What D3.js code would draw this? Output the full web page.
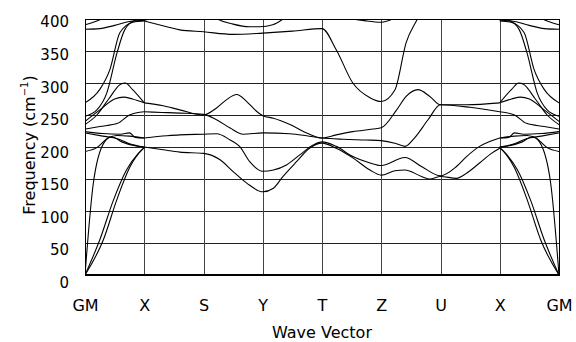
<!DOCTYPE html>
<html>
<head>
<meta charset="utf-8">
<script src="https://cdn.jsdelivr.net/npm/d3@7/dist/d3.min.js"></script>
<style>
body { margin: 0; background: #fff; }
svg text { font-family: "DejaVu Sans", sans-serif; fill: #000; }
</style>
</head>
<body>
<script>
// k-path labels and frequency ticks
var kLabels = ["GM", "X", "S", "Y", "T", "Z", "U", "X", "GM"];
var yTicks = [0, 50, 100, 150, 200, 250, 300, 350, 400];

// branches, as [path position, frequency (cm-1)]
// GM -> X
var bandsGX = [
	[[0,269],[0.25,290],[0.42,321],[0.59,379],[0.81,395],[1,397]],
	[[0,248],[0.2,258],[0.37,285],[0.54,347],[0.67,383],[0.85,398],[1,400],[1.3,406],[1.6,420]],
	[[0,391],[0.2,397],[0.4,405],[0.8,418]],
	[[0,384],[0.25,385],[0.5,390],[0.75,396],[1,398],[1.2,403],[1.5,415]],
	[[0,235],[0.2,250],[0.4,275],[0.6,298],[0.68,300],[0.8,290],[1,269]],
	[[0,240],[0.25,258],[0.5,275],[0.65,278],[0.8,275],[1,269]],
	[[0,228],[0.25,232],[0.55,237],[0.75,250],[1,255]],
	[[0,224],[0.3,221],[0.6,220],[0.75,222],[0.85,215],[1,214]],
	[[0,222],[0.3,217],[0.55,213],[0.75,205],[1,200]],
	[[0,193],[0.2,199],[0.39,214],[0.54,218],[0.75,217],[1,214]],
	[[0,0],[0.14,143],[0.33,208],[0.45,216],[0.62,208],[0.84,202],[1,200]],
	[[0,0],[0.25,55],[0.48,117],[0.7,164],[0.9,190],[1,199]],
	[[0,0],[0.31,55],[0.535,117],[0.76,169],[0.955,195],[1,199]]
];

// X -> S -> Y -> T -> Z -> U -> X
var bandsMid = [
	[[1,397],[1.38,388],[1.6,383],[2,380],[2.5,376],[3,378],[3.5,381],[4,385],[4.24,352],[4.52,300],[4.81,277],[5,271],[5.23,289],[5.42,363],[5.62,402],[5.8,440]],
	[[2,420],[2.16,404],[2.5,392],[2.78,388],[2.95,388],[3.17,391],[3.37,401.5],[3.6,415]],
	[[4.2,412],[4.47,401.5],[4.75,397],[5,395],[5.28,404],[5.5,415]],
	[[1,269],[1.32,264.5],[1.6,258],[2,250],[2.22,261],[2.39,274],[2.56,282],[2.73,271],[2.87,258],[3,249],[3.18,245],[3.46,235],[3.74,222],[4,214],[4.24,219],[4.52,224],[4.86,228],[5,230],[5.26,258],[5.42,279],[5.62,289.6],[5.82,279],[6,266],[6.44,266],[7,269]],
	[[1,255],[1.3,254],[1.6,253],[2,251],[2.22,242.6],[2.45,229.6],[2.67,220],[3,222],[3.46,220.6],[3.74,217.5],[4,214],[4.36,212],[4.75,211],[5,210],[5.23,206],[5.4,201],[5.56,214],[5.79,242.6],[6,266],[6.5,262],[7,255]],
	[[1,214],[1.38,217.5],[1.6,219],[2,220],[2.22,220.6],[2.45,211],[2.61,201],[2.78,177],[3,162],[3.18,164],[3.4,172],[3.63,188],[3.85,203],[4,208],[4.24,201],[4.52,185],[4.81,175],[5,171],[5.4,183.6],[5.68,169.5],[6,155],[6.27,169.5],[6.44,185],[6.66,201],[6.83,208.6],[7,214]],
	[[1,200],[1.32,195.6],[1.6,192],[2,190],[2.28,180],[2.5,161.6],[2.73,143.5],[3,130],[3.18,135.6],[3.34,153.8],[3.57,177],[3.79,198],[4,206],[4.24,198],[4.52,183],[4.81,164],[5,156],[5.23,162.8],[5.4,164],[5.68,154],[5.82,150],[6,154],[6.27,151],[6.44,159],[6.66,175],[6.86,190],[7,198]]
];

// X -> GM
var bandsXG = [
	[[7,397],[7.19,395],[7.41,379],[7.58,321],[7.75,290],[8,269]],
	[[6.4,420],[6.7,406],[7,400],[7.15,398],[7.33,383],[7.46,347],[7.63,285],[7.8,258],[8,248]],
	[[7.2,418],[7.6,405],[7.8,397],[8,391]],
	[[7,398],[7.25,396],[7.5,390],[7.75,385],[8,384]],
	[[7,269],[7.2,290],[7.32,300],[7.4,298],[7.6,275],[7.8,250],[8,235]],
	[[7,269],[7.2,275],[7.35,278],[7.5,275],[7.75,258],[8,240]],
	[[7,255],[7.25,250],[7.45,237],[7.75,232],[8,228]],
	[[7,214],[7.15,215],[7.25,222],[7.4,220],[7.7,221],[8,224]],
	[[7,200],[7.25,205],[7.45,213],[7.7,217],[8,222]],
	[[7,214],[7.25,217],[7.46,218],[7.61,214],[7.8,199],[8,193]],
	[[7,200],[7.16,202],[7.38,208],[7.55,216],[7.67,208],[7.86,143],[8,0]],
	[[7,199],[7.1,190],[7.3,164],[7.52,117],[7.75,55],[8,0]],
	[[7,199],[7.045,195],[7.24,169],[7.465,117],[7.69,55],[8,0]]
];

function drawChart(){

	var margin = {top: 19, right: 17, bottom: 67, left: 85},
		width = 576 - margin.left - margin.right,
		height = 342 - margin.top - margin.bottom;

	var x = d3.scaleLinear().domain([0, kLabels.length - 1]).range([0, width]);
	var y = d3.scaleLinear().domain([0, 400]).range([height, 0]);
	// tick labels sit a little wider apart than the grid in the original
	var yLabel = d3.scaleLinear().domain([0, 400]).range([height + 7, 2.5]);

	var svg = d3.select("body")
		.append("svg")
		.attr("width", 576)
		.attr("height", 342)
		.append("g")
		.attr("transform", "translate(" + margin.left + "," + margin.top + ")");

	svg.append("clipPath")
		.attr("id", "plotClip")
		.append("rect")
		.attr("width", width)
		.attr("height", height);

	// horizontal grid + labels
	var yAxis = svg.append("g")
		.call(d3.axisLeft(y).tickValues(yTicks).tickSize(-width).tickPadding(16));
	yAxis.select(".domain").remove();
	yAxis.selectAll("line").attr("stroke", "#222").attr("shape-rendering", "crispEdges");
	yAxis.selectAll("text")
		.attr("font-size", "15px")
		.attr("font-family", "DejaVu Sans, sans-serif")
		.attr("y", function(d){ return yLabel(d) - y(d); })
		.attr("dy", "0.36em");

	// vertical lines at the k-points + labels
	var xAxis = svg.append("g")
		.attr("transform", "translate(0," + height + ")")
		.call(d3.axisBottom(x).tickValues(d3.range(kLabels.length))
			.tickFormat(function(i){ return kLabels[i]; })
			.tickSize(-height).tickPadding(25));
	xAxis.select(".domain").remove();
	xAxis.selectAll("line").attr("stroke", "#444").attr("shape-rendering", "crispEdges");
	xAxis.selectAll("text")
		.attr("font-size", "16px")
		.attr("font-family", "DejaVu Sans, sans-serif");

	// frame
	svg.append("rect")
		.attr("width", width)
		.attr("height", height)
		.attr("fill", "none")
		.attr("stroke", "#000")
		.attr("shape-rendering", "crispEdges");
	svg.append("line")
		.attr("x1", 0).attr("x2", width)
		.attr("y1", height).attr("y2", height)
		.attr("stroke", "#000")
		.attr("stroke-width", 2);

	// dispersion branches
	var line = d3.line()
		.x(function(d){ return x(d[0]); })
		.y(function(d){ return y(d[1]); })
		.curve(d3.curveMonotoneX);

	var allBands = bandsGX.concat(bandsMid, bandsXG);

	svg.append("g")
		.attr("clip-path", "url(#plotClip)")
		.selectAll("path")
		.data(allBands)
		.enter()
		.append("path")
		.attr("d", line)
		.attr("fill", "none")
		.attr("stroke", "#000")
		.attr("stroke-width", 1.1);

	// axis titles
	svg.append("text")
		.attr("text-anchor", "middle")
		.attr("x", width / 2)
		.attr("y", height + 63)
		.attr("font-size", "16px")
		.text("Wave Vector");

	var yTitle = svg.append("text")
		.attr("text-anchor", "middle")
		.attr("transform", "translate(" + (-50) + "," + (height / 2 - 2) + ") rotate(-90)")
		.attr("font-size", "16px");
	yTitle.append("tspan").text("Frequency (cm");
	yTitle.append("tspan").attr("font-size", "10px").attr("dy", "-7").text("\u22121");
	yTitle.append("tspan").attr("dy", "7").text(")");
}

drawChart();
</script>
</body>
</html>
